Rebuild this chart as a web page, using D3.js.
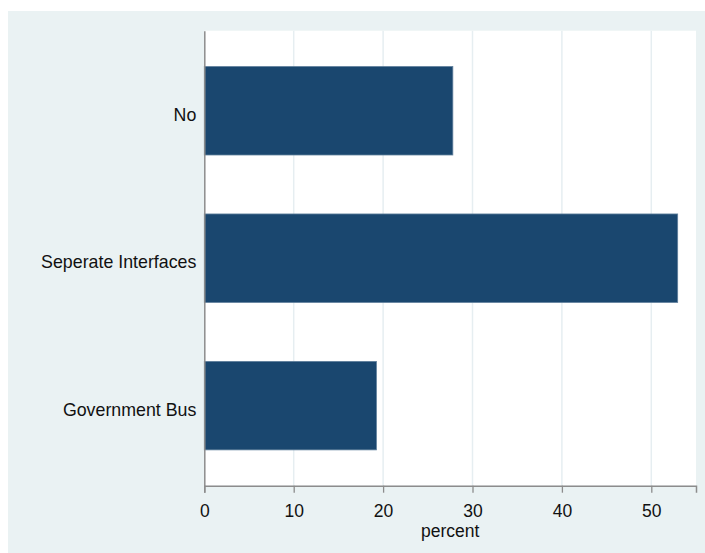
<!DOCTYPE html>
<html><head><meta charset="utf-8">
<script src="https://cdn.jsdelivr.net/npm/d3@7"></script>
<style>body{margin:0;background:#fff}svg{display:block}</style>
</head><body>
<script>
const categories = ["No", "Seperate Interfaces", "Government Bus"];
const values = [27.8, 52.95, 19.25];
const xTicks = [0, 10, 20, 30, 40, 50];
const xLabel = "percent";

const W = 705, H = 553;
const svg = d3.select("body").append("svg").attr("width", W).attr("height", H);
const font = "'Liberation Sans', Arial, Helvetica, sans-serif";

svg.append("rect").attr("x", 8).attr("y", 11).attr("width", W - 8).attr("height", H - 11).attr("fill", "#EAF2F3");

const L = 204.3, R = 696, T = 30.7, B = 485.7;
svg.append("rect").attr("x", L).attr("y", T).attr("width", R - L).attr("height", B - T).attr("fill", "#fff");

const x = d3.scaleLinear().domain([0, 55]).range([L, R]);
const y = d3.scaleBand().domain(categories).range([T, B]).paddingInner(0.4).paddingOuter(0.243);

// gridlines
svg.append("g").selectAll("line").data(xTicks.filter(d => d > 0)).join("line")
  .attr("x1", d => x(d)).attr("x2", d => x(d)).attr("y1", T).attr("y2", B)
  .attr("stroke", "#E6EEF1").attr("stroke-width", 1.5);

// bars
svg.append("g").selectAll("rect").data(categories).join("rect")
  .attr("x", x(0)).attr("y", d => y(d))
  .attr("width", (d, i) => x(values[i]) - x(0)).attr("height", y.bandwidth())
  .attr("fill", "#1A476F").attr("stroke", "#5F7F9C").attr("stroke-width", 0.8);

// x axis
const xa = svg.append("g").attr("transform", `translate(0,${B})`)
  .call(d3.axisBottom(x).tickValues(xTicks).tickSize(7).tickPadding(8).tickFormat(d3.format("d")));
xa.select(".domain").attr("stroke", "#8c8c8c").attr("stroke-width", 1.5);
xa.selectAll(".tick line").attr("stroke", "#8c8c8c").attr("stroke-width", 1.3);
xa.selectAll(".tick text").attr("font-family", font).attr("font-size", 17.5).attr("fill", "#111").attr("dy", 0).attr("y", 31);

// y axis
const ya = svg.append("g").attr("transform", `translate(${L},0)`)
  .call(d3.axisLeft(y).tickSize(0).tickPadding(8));
ya.select(".domain").attr("stroke", "#8c8c8c").attr("stroke-width", 1.5);
ya.selectAll(".tick text").attr("font-family", font).attr("font-size", 17.8).attr("fill", "#111").attr("dy", "0.56em");

svg.append("text").attr("x", (L + R) / 2).attr("y", 537.3).attr("text-anchor", "middle")
  .attr("font-family", font).attr("font-size", 17.5).attr("fill", "#111").text(xLabel);
</script>
</body></html>
